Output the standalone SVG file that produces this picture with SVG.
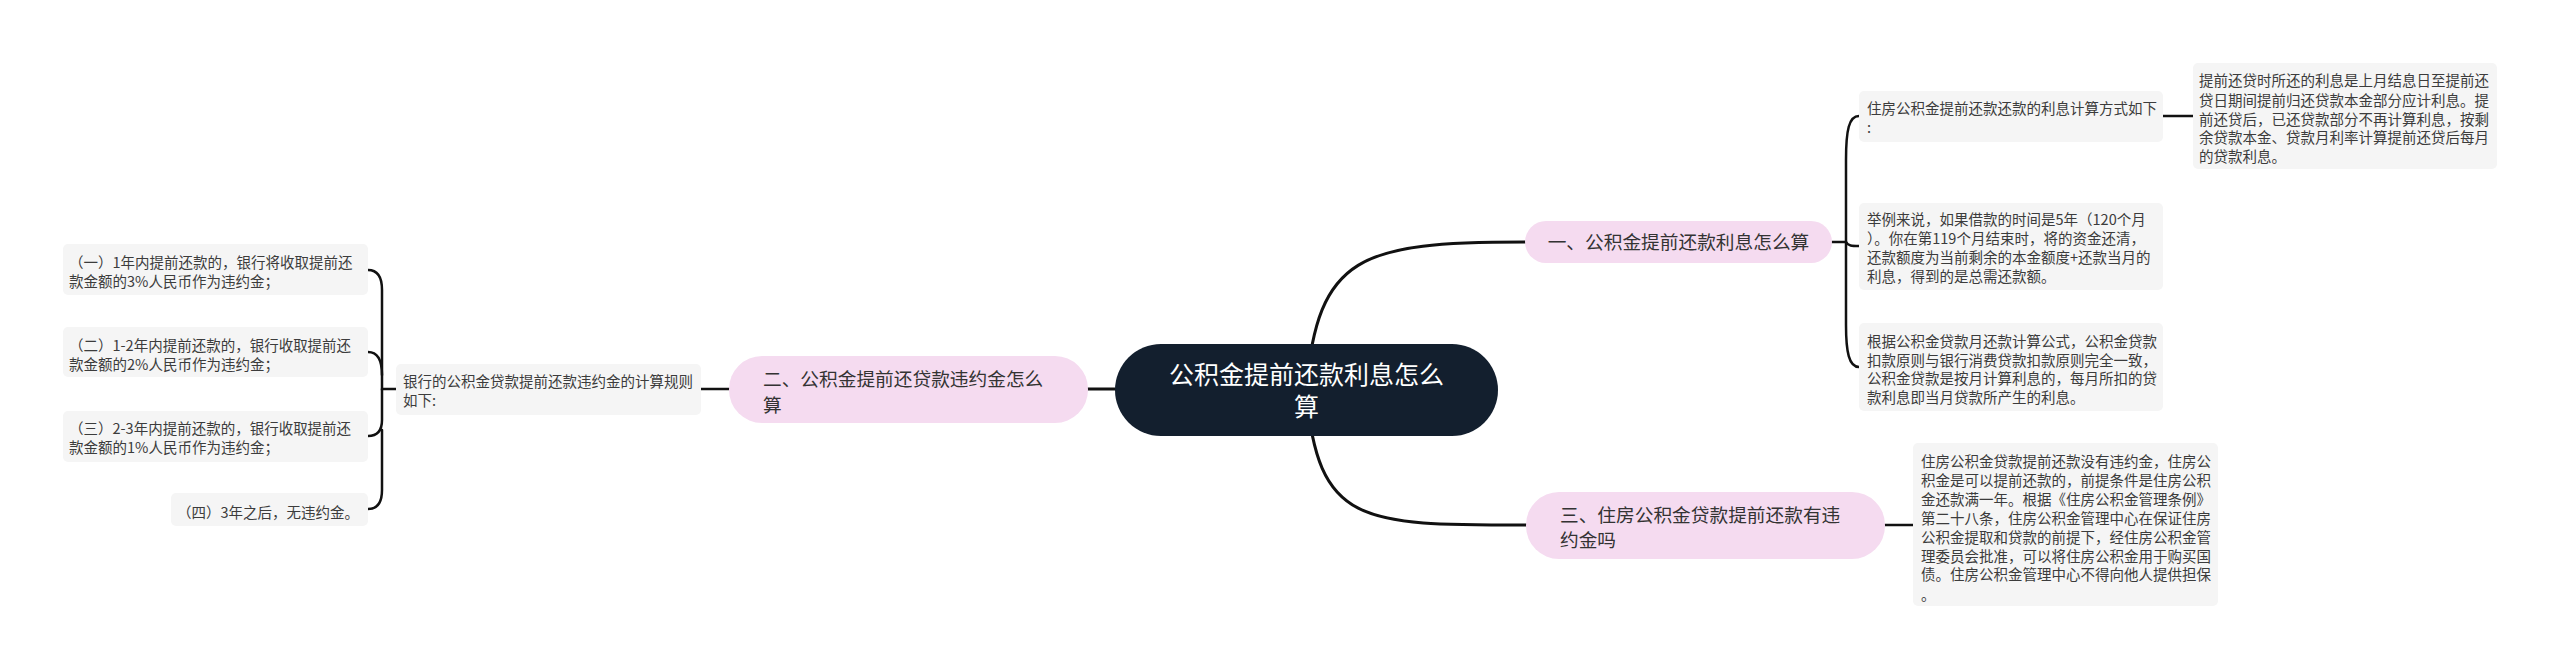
<svg xmlns="http://www.w3.org/2000/svg" width="2560" height="670" viewBox="0 0 2560 670">
<style>
.t{font-family:"Noto Sans CJK SC","Noto Sans",sans-serif;}
.box{fill:#f5f5f5;}
.bt{font-size:14.5px;fill:#3c3c3c;}
.pink{fill:#f5dbf0;}
.pt{font-size:18.7px;fill:#333333;}
.ct{font-size:25px;fill:#ffffff;}
.c{fill:none;stroke:#111111;stroke-width:2.5;stroke-linecap:round;}
.m{fill:none;stroke:#111111;stroke-width:3;stroke-linecap:round;}
</style>
<rect width="2560" height="670" fill="#ffffff"/>
<g id="connectors">
<path class="m" d="M1306,390 C1318,255 1360,242 1525,242"/>
<path class="m" d="M1306,390 C1318,525 1360,525 1526,525"/>
<path class="m" d="M1088,389 L1115,389"/>
<path class="c" d="M1832,242 L1846,242 L1846,160 C1846,130 1849,116 1859,116"/>
<path class="c" d="M1846,242 C1848,246 1852,246 1859,246"/>
<path class="c" d="M1846,242 L1846,325 C1846,352 1849,367 1859,367"/>
<path class="c" d="M2163,116 L2193,116"/>
<path class="c" d="M1885,525 L1913,525"/>
<path class="c" d="M701,389 L729,389"/>
<path class="c" d="M396,389 L382,389 L382,290 C382,278 378,270 368,270"/>
<path class="c" d="M382,375 C382,360 378,352 368,352"/>
<path class="c" d="M382,389 L382,420 C382,430 378,436 368,436"/>
<path class="c" d="M382,430 L382,490 C382,502 378,509 368,509"/>
</g>
<g id="center">
<rect x="1115" y="344" width="383" height="92" rx="46" fill="#131f2e"/>
<text class="t ct" x="1306.5" y="384" text-anchor="middle">公积金提前还款利息怎么</text>
<text class="t ct" x="1306.5" y="416" text-anchor="middle">算</text>
</g>
<g id="branch1">
<rect class="pink" x="1525" y="221" width="307" height="42" rx="21"/>
<text class="t pt" x="1678.5" y="249" text-anchor="middle">一、公积金提前还款利息怎么算</text>
</g>
<g id="branch2">
<rect class="pink" x="729" y="356" width="359" height="67" rx="33"/>
<text class="t pt" x="763" y="386">二、公积金提前还贷款违约金怎么</text>
<text class="t pt" x="763" y="412">算</text>
</g>
<g id="branch3">
<rect class="pink" x="1526" y="492" width="359" height="67" rx="33"/>
<text class="t pt" x="1560" y="522">三、住房公积金贷款提前还款有违</text>
<text class="t pt" x="1560" y="547">约金吗</text>
</g>
<g id="b1c1">
<rect class="box" x="1859" y="91" width="304" height="51" rx="5"/>
<text class="t bt" x="1867" y="114">住房公积金提前还款还款的利息计算方式如下</text>
<text class="t bt" x="1867" y="133">:</text>
</g>
<g id="b1c1a">
<rect class="box" x="2193" y="63" width="304" height="106" rx="5"/>
<text class="t bt" x="2199" y="86">提前还贷时所还的利息是上月结息日至提前还</text>
<text class="t bt" x="2199" y="106">贷日期间提前归还贷款本金部分应计利息。提</text>
<text class="t bt" x="2199" y="125">前还贷后，已还贷款部分不再计算利息，按剩</text>
<text class="t bt" x="2199" y="143">余贷款本金、贷款月利率计算提前还贷后每月</text>
<text class="t bt" x="2199" y="162">的贷款利息。</text>
</g>
<g id="b1c2">
<rect class="box" x="1859" y="203" width="304" height="87" rx="5"/>
<text class="t bt" x="1867" y="225">举例来说，如果借款的时间是5年（120个月</text>
<text class="t bt" x="1867" y="244">）。你在第119个月结束时，将的资金还清，</text>
<text class="t bt" x="1867" y="263">还款额度为当前剩余的本金额度+还款当月的</text>
<text class="t bt" x="1867" y="282">利息，得到的是总需还款额。</text>
</g>
<g id="b1c3">
<rect class="box" x="1859" y="323" width="304" height="88" rx="5"/>
<text class="t bt" x="1867" y="347">根据公积金贷款月还款计算公式，公积金贷款</text>
<text class="t bt" x="1867" y="366">扣款原则与银行消费贷款扣款原则完全一致，</text>
<text class="t bt" x="1867" y="384">公积金贷款是按月计算利息的，每月所扣的贷</text>
<text class="t bt" x="1867" y="403">款利息即当月贷款所产生的利息。</text>
</g>
<g id="b3c1">
<rect class="box" x="1913" y="443" width="305" height="163" rx="5"/>
<text class="t bt" x="1921" y="467">住房公积金贷款提前还款没有违约金，住房公</text>
<text class="t bt" x="1921" y="486">积金是可以提前还款的，前提条件是住房公积</text>
<text class="t bt" x="1921" y="505">金还款满一年。根据《住房公积金管理条例》</text>
<text class="t bt" x="1921" y="524">第二十八条，住房公积金管理中心在保证住房</text>
<text class="t bt" x="1921" y="543">公积金提取和贷款的前提下，经住房公积金管</text>
<text class="t bt" x="1921" y="562">理委员会批准，可以将住房公积金用于购买国</text>
<text class="t bt" x="1921" y="580">债。住房公积金管理中心不得向他人提供担保</text>
<text class="t bt" x="1921" y="600">。</text>
</g>
<g id="b2c1">
<rect class="box" x="396" y="364" width="305" height="51" rx="5"/>
<text class="t bt" x="403" y="387">银行的公积金贷款提前还款违约金的计算规则</text>
<text class="t bt" x="403" y="406">如下:</text>
</g>
<g id="d1">
<rect class="box" x="63" y="244" width="305" height="51" rx="5"/>
<text class="t bt" x="69" y="268">（一）1年内提前还款的，银行将收取提前还</text>
<text class="t bt" x="69" y="287">款金额的3%人民币作为违约金；</text>
</g>
<g id="d2">
<rect class="box" x="63" y="327" width="305" height="50" rx="5"/>
<text class="t bt" x="69" y="351">（二）1-2年内提前还款的，银行收取提前还</text>
<text class="t bt" x="69" y="370">款金额的2%人民币作为违约金；</text>
</g>
<g id="d3">
<rect class="box" x="63" y="411" width="305" height="51" rx="5"/>
<text class="t bt" x="69" y="434">（三）2-3年内提前还款的，银行收取提前还</text>
<text class="t bt" x="69" y="453">款金额的1%人民币作为违约金；</text>
</g>
<g id="d4">
<rect class="box" x="171" y="493" width="197" height="33" rx="5"/>
<text class="t bt" x="177" y="518">（四）3年之后，无违约金。</text>
</g>
</svg>
